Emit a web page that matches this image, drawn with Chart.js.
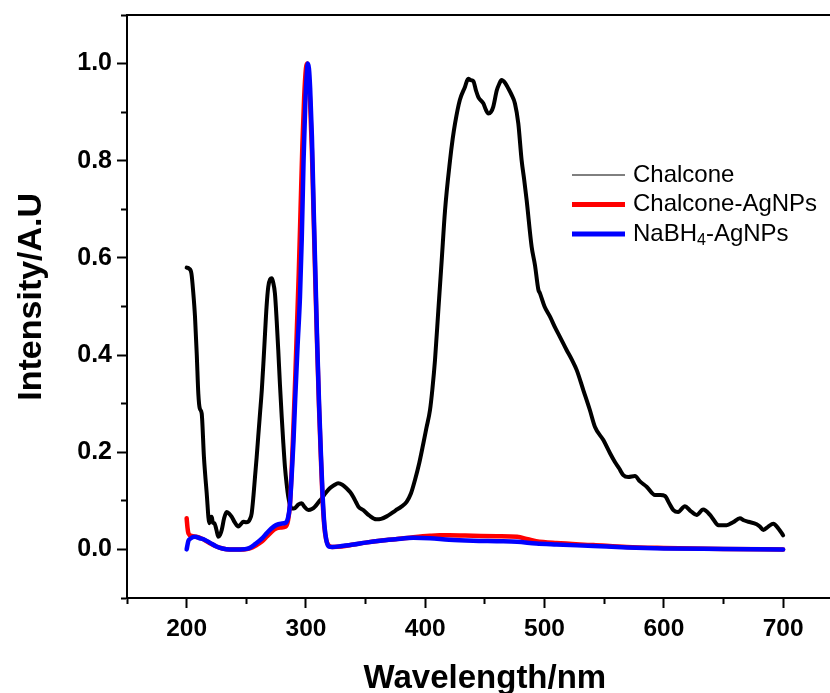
<!DOCTYPE html>
<html>
<head>
<meta charset="utf-8">
<script src="https://cdn.jsdelivr.net/npm/chart.js@4.4.1/dist/chart.umd.min.js"></script>
<style>
  html, body { margin: 0; padding: 0; background: #fff; overflow: hidden; }
  #wrap { width: 830px; height: 693px; }
</style>
</head>
<body>
<div id="wrap"><canvas id="uv-chart" width="830" height="693"></canvas></div>
<script>
// Spectra: wavelength (nm) and normalised intensity
const chalconeNm = [200, 202, 204, 205.5, 207, 208.5, 209.8, 211, 212.6, 214.5, 216.8, 219, 220, 221, 222, 223.2, 225, 226.5, 228, 229.4,
  231.5, 233.5, 235.5, 237.8, 240.5, 243.3, 245.5, 247.5, 250, 251.7, 253, 254.5, 256, 257.3, 258.7, 260, 261.5, 263, 264.5, 265.7,
  267, 268.4, 270, 271.3, 272.5, 274, 275.5, 276.8, 278.2, 279.7, 281, 282.4, 283.8, 285.2, 286.6, 288, 290.8, 293.5, 296.4, 299,
  302, 305, 307.6, 310.5, 313.2, 316.5, 320, 323.5, 327, 330.5, 334, 337, 339.7, 342, 344, 348, 353, 359, 363, 367.7,
  371, 375, 380, 384.4, 388, 391.4, 395, 398.4, 401, 404, 406, 408.2, 411, 413.8, 416.6, 420.8, 423, 425, 429, 433.3,
  436, 438, 440.3, 442.5, 444.5, 448.7, 450.8, 452.9, 455, 457, 460, 462, 464, 467, 469.6, 472.5, 475.2, 478, 480.8, 483,
  485, 489.2, 492, 494.8, 496.2, 500, 504.6, 509, 513, 518.6, 523, 527, 532.5, 538, 542.3, 549.3, 554.9, 559, 562.5, 566,
  570.2, 575.8, 580, 585.6, 592.6, 597, 601, 604.5, 608, 612, 617.7, 622, 627.5, 633, 638.7, 642, 645.7, 652.7, 658, 663.8,
  667, 670.8, 677.8, 680.5, 683.4, 687.5, 691.8, 696, 700];
const chalconeI = [0.58, 0.578, 0.568, 0.53, 0.479, 0.4, 0.32, 0.29, 0.28, 0.19, 0.116, 0.054, 0.066, 0.067, 0.055, 0.054, 0.04, 0.026, 0.03, 0.04,
  0.065, 0.077, 0.074, 0.067, 0.055, 0.047, 0.052, 0.057, 0.056, 0.057, 0.062, 0.074, 0.11, 0.149, 0.19, 0.232, 0.28, 0.328, 0.39, 0.444,
  0.5, 0.54, 0.556, 0.558, 0.55, 0.527, 0.47, 0.41, 0.34, 0.273, 0.22, 0.17, 0.135, 0.108, 0.092, 0.084, 0.085, 0.092, 0.095, 0.087,
  0.081, 0.083, 0.088, 0.097, 0.105, 0.116, 0.126, 0.132, 0.136, 0.133, 0.126, 0.118, 0.108, 0.097, 0.088, 0.081, 0.07, 0.062, 0.063, 0.068,
  0.073, 0.08, 0.088, 0.098, 0.115, 0.143, 0.178, 0.218, 0.25, 0.287, 0.33, 0.39, 0.493, 0.595, 0.698, 0.801, 0.845, 0.877, 0.925, 0.952,
  0.969, 0.966, 0.964, 0.945, 0.931, 0.918, 0.905, 0.897, 0.9, 0.911, 0.945, 0.958, 0.966, 0.96, 0.949, 0.935, 0.918, 0.877, 0.801, 0.76,
  0.719, 0.623, 0.585, 0.535, 0.527, 0.5, 0.479, 0.456, 0.437, 0.41, 0.39, 0.369, 0.328, 0.287, 0.252, 0.225, 0.198, 0.18, 0.167, 0.153,
  0.149, 0.151, 0.14, 0.129, 0.112, 0.112, 0.11, 0.095, 0.081, 0.077, 0.089, 0.08, 0.071, 0.082, 0.071, 0.06, 0.05, 0.05, 0.056, 0.064,
  0.06, 0.057, 0.052, 0.047, 0.04, 0.047, 0.053, 0.043, 0.029];

const chalconeAgNm = [200, 200.7, 201.5, 204, 208, 212, 216, 220, 225, 230, 236, 248, 253, 258, 263, 267, 271, 275, 279, 283,
  285, 286.5, 288, 289.5, 291, 292.5, 294, 295.5, 297, 298.5, 300, 301, 302, 303.5, 305, 306.5, 308, 309.5, 311, 312.5,
  314, 315.5, 317, 319, 322, 330, 340, 350, 362, 375, 390, 404, 412, 420, 440, 460, 477, 486, 493, 510,
  541, 569, 600, 650, 700];
const chalconeAgI = [0.064, 0.045, 0.033, 0.028, 0.026, 0.023, 0.018, 0.012, 0.006, 0.002, 0.0, 0.0, 0.002, 0.008, 0.016, 0.026, 0.036, 0.043, 0.045, 0.047,
  0.06, 0.09, 0.16, 0.25, 0.35, 0.46, 0.57, 0.7, 0.83, 0.93, 0.99, 1.0, 0.98, 0.92, 0.82, 0.68, 0.54, 0.41, 0.29, 0.19,
  0.1, 0.045, 0.02, 0.008, 0.005, 0.006, 0.01, 0.014, 0.018, 0.021, 0.025, 0.028, 0.029, 0.029, 0.028, 0.027, 0.026, 0.021, 0.017, 0.013,
  0.009, 0.005, 0.003, 0.001, 0.0];

const nabhAgNm = [200, 201.5, 203, 207, 211, 215, 220, 225, 230, 236, 245, 252, 258, 263, 267, 271, 275, 279, 283, 285,
  286.5, 288, 289.5, 291, 293, 295, 296.5, 298, 299.5, 300.5, 301.5, 302.5, 303.5, 305, 306.5, 308, 309.5, 311, 312.5, 314,
  315.5, 317, 319, 322, 330, 340, 350, 362, 375, 390, 404, 420, 440, 460, 477, 493, 510, 541, 569, 600,
  650, 700];
const nabhAgI = [0.0, 0.018, 0.022, 0.026, 0.023, 0.02, 0.013, 0.006, 0.002, 0.0, 0.0, 0.002, 0.012, 0.022, 0.033, 0.043, 0.05, 0.053, 0.055, 0.065,
  0.09, 0.15, 0.22, 0.31, 0.42, 0.52, 0.64, 0.8, 0.92, 0.97, 1.0, 0.99, 0.95, 0.85, 0.7, 0.56, 0.42, 0.3, 0.2, 0.11,
  0.05, 0.02, 0.006, 0.005, 0.007, 0.01, 0.014, 0.018, 0.021, 0.024, 0.023, 0.02, 0.018, 0.017, 0.016, 0.012, 0.01, 0.007, 0.004, 0.002,
  0.001, 0.0];

// axis ticks (labelled majors, short unlabelled minors)
const xMajorTicks = [200, 300, 400, 500, 600, 700];
const xMinorTicks = [150, 250, 350, 450, 550, 650];
const yMajorTicks = [0.0, 0.2, 0.4, 0.6, 0.8, 1.0];
const yMinorTicks = [-0.1, 0.1, 0.3, 0.5, 0.7, 0.9, 1.1];

const legendNames = ['Chalcone', 'Chalcone-AgNPs', 'NaBH4-AgNPs'];

const FONT = 'Arial, "Liberation Sans", Helvetica, sans-serif';

function toPoints(xs, ys) {
  return xs.map((x, i) => ({ x: x, y: ys[i] }));
}
function isMajor(list, v) {
  return list.some(m => Math.abs(m - v) < 1e-6);
}

// top frame, axis titles and the in-plot legend
const decorations = {
  id: 'decorations',
  afterDraw(chart) {
    const { ctx, chartArea, scales } = chart;
    ctx.save();

    ctx.strokeStyle = '#000';
    ctx.lineWidth = 2;
    ctx.beginPath();
    ctx.moveTo(chartArea.left, chartArea.top);
    ctx.lineTo(chartArea.right, chartArea.top);
    ctx.stroke();

    ctx.fillStyle = '#000';
    ctx.font = 'bold 33px ' + FONT;
    ctx.textAlign = 'center';
    ctx.textBaseline = 'alphabetic';
    ctx.fillText('Wavelength/nm', scales.x.getPixelForValue(450), 688);

    ctx.save();
    ctx.translate(41, scales.y.getPixelForValue(0.52));
    ctx.rotate(-Math.PI / 2);
    ctx.font = 'bold 34px ' + FONT;
    ctx.fillText('Intensity/A.U', 0, 0);
    ctx.restore();

    // legend
    const colors = ['#000', '#ff0000', '#0000ff'];
    const widths = [1, 5, 5];
    const lx = 572, lw = 53, tx = 633;
    let ly = 175;
    ctx.font = '24px ' + FONT;
    ctx.textAlign = 'left';
    ctx.textBaseline = 'middle';
    legendNames.forEach((name, i) => {
      ctx.strokeStyle = colors[i];
      ctx.lineWidth = widths[i];
      ctx.beginPath();
      ctx.moveTo(lx, ly);
      ctx.lineTo(lx + lw, ly);
      ctx.stroke();
      ctx.fillStyle = '#000';
      if (name.indexOf('NaBH4') === 0) {
        ctx.font = '24px ' + FONT;
        ctx.fillText('NaBH', tx, ly);
        let w = ctx.measureText('NaBH').width;
        ctx.font = '16px ' + FONT;
        ctx.fillText('4', tx + w, ly + 7);
        w += ctx.measureText('4').width;
        ctx.font = '24px ' + FONT;
        ctx.fillText('-AgNPs', tx + w, ly);
      } else {
        ctx.fillText(name, tx, ly);
      }
      ly += 29.5;
    });
    ctx.restore();
  }
};

const ctx = document.getElementById('uv-chart').getContext('2d');

new Chart(ctx, {
  type: 'line',
  data: {
    datasets: [
      {
        label: legendNames[2],
        data: toPoints(nabhAgNm, nabhAgI),
        borderColor: '#0000ff',
        borderWidth: 4.5,
        order: 1
      },
      {
        label: legendNames[1],
        data: toPoints(chalconeAgNm, chalconeAgI),
        borderColor: '#ff0000',
        borderWidth: 4.5,
        order: 2
      },
      {
        label: legendNames[0],
        data: toPoints(chalconeNm, chalconeI),
        borderColor: '#000000',
        borderWidth: 4,
        order: 3
      }
    ]
  },
  options: {
    responsive: false,
    animation: false,
    devicePixelRatio: 1,
    elements: {
      point: { radius: 0, hoverRadius: 0 },
      line: { cubicInterpolationMode: 'monotone', fill: false, borderCapStyle: 'round', borderJoinStyle: 'round' }
    },
    layout: { padding: { top: 15, right: 0, bottom: 0, left: 0 } },
    plugins: {
      legend: { display: false },
      tooltip: { enabled: false }
    },
    scales: {
      x: {
        type: 'linear',
        min: 150,
        max: 739.3,
        afterBuildTicks: scale => {
          scale.ticks = xMinorTicks.concat(xMajorTicks).sort((a, b) => a - b).map(v => ({ value: v }));
        },
        afterFit: scale => {
          scale.height = 95;
          scale.paddingLeft = 0;
          scale.paddingRight = 0;
        },
        border: { display: true, color: '#000', width: 2 },
        grid: {
          drawOnChartArea: false,
          drawTicks: true,
          tickLength: 10,
          tickWidth: 2,
          tickColor: '#000',
          tickBorderDash: c => (c.tick && !isMajor(xMajorTicks, c.tick.value)) ? [5, 30] : []
        },
        ticks: {
          autoSkip: false,
          maxRotation: 0,
          padding: 7,
          color: '#000',
          font: { family: FONT, size: 24.5, weight: 'bold' },
          callback: v => isMajor(xMajorTicks, v) ? String(v) : ''
        }
      },
      y: {
        type: 'linear',
        min: -0.1,
        max: 1.1,
        afterBuildTicks: scale => {
          scale.ticks = yMinorTicks.concat(yMajorTicks).sort((a, b) => a - b).map(v => ({ value: v }));
        },
        afterFit: scale => {
          scale.width = 127;
          scale.paddingTop = 0;
          scale.paddingBottom = 0;
        },
        border: { display: true, color: '#000', width: 2 },
        grid: {
          drawOnChartArea: false,
          drawTicks: true,
          tickLength: 10,
          tickWidth: 2,
          tickColor: '#000',
          tickBorderDash: c => (c.tick && !isMajor(yMajorTicks, c.tick.value)) ? [0, 4, 10, 30] : []
        },
        ticks: {
          autoSkip: false,
          padding: 5,
          color: '#000',
          font: { family: FONT, size: 25, weight: 'bold' },
          callback: v => isMajor(yMajorTicks, v) ? v.toFixed(1) : ''
        }
      }
    }
  },
  plugins: [decorations]
});
</script>
</body>
</html>
